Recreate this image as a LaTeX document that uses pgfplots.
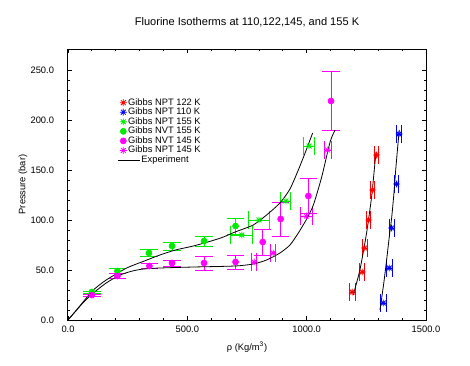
\documentclass[border=0pt]{standalone}
\usepackage{fontspec}
\setmainfont{Liberation Sans}
\usepackage{pgfplots}
\pgfplotsset{compat=1.18}
\pgfdeclareplotmark{ast8}{%
 \pgfpathmoveto{\pgfqpoint{-\pgfplotmarksize}{0pt}}\pgfpathlineto{\pgfqpoint{\pgfplotmarksize}{0pt}}%
 \pgfpathmoveto{\pgfqpoint{0pt}{-\pgfplotmarksize}}\pgfpathlineto{\pgfqpoint{0pt}{\pgfplotmarksize}}%
 \pgfpathmoveto{\pgfqpoint{-0.707\pgfplotmarksize}{-0.707\pgfplotmarksize}}\pgfpathlineto{\pgfqpoint{0.707\pgfplotmarksize}{0.707\pgfplotmarksize}}%
 \pgfpathmoveto{\pgfqpoint{-0.707\pgfplotmarksize}{0.707\pgfplotmarksize}}\pgfpathlineto{\pgfqpoint{0.707\pgfplotmarksize}{-0.707\pgfplotmarksize}}%
 \pgfusepathqstroke}
\definecolor{cgreen}{RGB}{0,235,0}
\definecolor{cmag}{RGB}{255,0,255}
\pgfplotsset{
 npt/.style={only marks, mark=ast8, mark size=2.6pt, line width=0.6pt,
   error bars/x dir=both, error bars/x explicit,
   error bars/error mark=-,
   error bars/error bar style={line width=0.75pt},
   error bars/error mark options={rotate=90, mark size=6.5pt, line width=0.75pt}},
 nvt/.style={only marks, mark=*, mark size=2.3pt,
   error bars/y dir=both, error bars/y explicit,
   error bars/error mark=-,
   error bars/error bar style={line width=0.75pt},
   error bars/error mark options={rotate=90, mark size=6.5pt, line width=0.75pt}},
 expt/.style={black, line width=0.6pt, smooth, tension=0.4, mark=none},
}
\begin{document}
\begin{tikzpicture}
\useasboundingbox (0,0) rectangle (352.5pt,273.75pt);
\begin{axis}[
 at={(51pt,33.75pt)}, anchor=south west,
 scale only axis, width=268.5pt, height=203.25pt,
 xmin=0, xmax=1500, ymin=0, ymax=271,
 xtick={0,500,1000,1500}, minor x tick num=4,
 ytick={0,50,100,150,200,250}, minor y tick num=4,
 tick align=inside, major tick length=3pt, minor tick length=1.8pt,
 every tick/.style={black, line width=0.6pt},
 axis line style={line width=0.75pt},
 tick label style={font=\fontsize{7}{8}\selectfont},
 xticklabel style={yshift=-1pt},
 yticklabel style={xshift=-7pt},
 /pgf/number format/.cd, fixed, fixed zerofill, precision=1, 1000 sep={}, assume math mode=true,
 /pgfplots/.cd,
 title={Fluorine Isotherms at 110,122,145, and 155 K},
 title style={font=\fontsize{8.3}{9}\selectfont, at={(0.5,1)}, anchor=center, yshift=14pt},
 xlabel={ρ (Kg/m\textsuperscript{3})},
 xlabel style={font=\fontsize{7}{8}\selectfont, at={(axis description cs:0.5,0)}, anchor=center, yshift=-20.25pt},
 ylabel={Pressure (bar)},
 ylabel style={font=\fontsize{7}{8}\selectfont, at={(axis description cs:-0.126,0.5)}, anchor=center},
 legend style={at={(axis cs:190,226)}, anchor=north west, draw=none, fill=none,
   font=\fontsize{7}{7}\selectfont, row sep=-1.4pt, nodes={inner sep=1pt}},
 legend cell align=left,
 legend image code/.code={\draw[mark repeat=2,mark phase=2,#1] plot coordinates {(0cm,0cm) (0.15cm,0cm) (0.3cm,0cm)};},
]
% Gibbs NPT 122 K
\addplot[npt, red] table[x=x, y=y, x error=ex] {
x y ex
1191 28 12
1233 48 10
1243 72 10
1260 100 9
1276 130 7
1293 165 7
};
\addlegendentry{Gibbs NPT 122 K}
% Gibbs NPT 110 K
\addplot[npt, blue] table[x=x, y=y, x error=ex] {
x y ex
1321 17 12
1346 52 12
1356 92 10
1377 136 9
1387 186 9
};
\addlegendentry{Gibbs NPT 110 K}
% Gibbs NPT 155 K
\addplot[npt, cgreen] table[x=x, y=y, x error=ex] {
x y ex
728 85 47
800 100 44
913 119 21
1010 174 24
};
\addlegendentry{Gibbs NPT 155 K}
% Gibbs NVT 155 K
\addplot[nvt, cgreen] table[x=x, y=y, y error=ey] {
x y ey
100 28 1
207 49 2.5
339 67 3.7
436 74 4
570 79 5
702 94 8
};
\addlegendentry{Gibbs NVT 155 K}
% Gibbs NVT 145 K
\addplot[nvt, cmag] table[x=x, y=y, y error=ey] {
x y ey
100 25 1
207 44 2.5
341 54 2.7
436 57 3
570 57 7
702 58 7
816 78 13
891 101 17
1007 124 17.5
1102 219 29.5
};
\addlegendentry{Gibbs NVT 145 K}
% Gibbs NPT 145 K
\addplot[npt, cmag] table[x=x, y=y, x error=ex] {
x y ex
780 58 11
860 67 10
999 104 25
1088 170 14
};
\addlegendentry{Gibbs NPT 145 K}
% Experiment curves
\addplot[expt, legend image code/.code={\draw[black, line width=0.6pt, overlay] (0.02cm,0) -- (0.58cm,0);}] coordinates {
(0,0) (36,10) (70,20) (106,30) (160,40) (246,52) (320,59) (385,65) (450,70) (525,74) (600,79) (651,83) (700,88) (776,95) (832,105) (888,117) (930,131) (965,150) (995,168) (1025,187)
};
\addlegendentry{\hspace{10pt}Experiment}
\addplot[expt, forget plot] coordinates {
(0,0) (36,10) (70,19) (106,27) (160,37) (218,45) (270,49) (316,51) (385,52) (525,53) (700,54) (776,56) (832,60) (888,67) (930,75) (965,87) (1000,101) (1028,115) (1063,143) (1098,178) (1119,190)
};
\addplot[expt, forget plot] coordinates {
(1195,25) (1223,50) (1251,87) (1272,123) (1286,157) (1291,168)
};
\addplot[expt, forget plot] coordinates {
(1307,10) (1322,35) (1335,60) (1347,85) (1356,102) (1365,125) (1373,150) (1381,172) (1388,190)
};
\end{axis}
\end{tikzpicture}
\end{document}
